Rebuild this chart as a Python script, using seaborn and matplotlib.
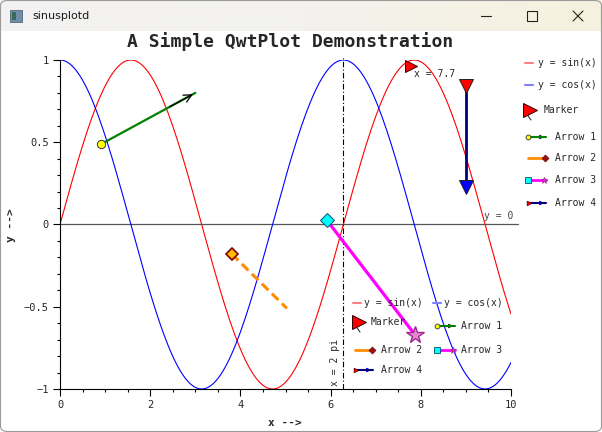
import numpy as np
import pandas as pd
import matplotlib
matplotlib.use("Agg")
import matplotlib.pyplot as plt
import seaborn as sns
from matplotlib.lines import Line2D
from matplotlib.patches import FancyArrowPatch, Rectangle, FancyBboxPatch
from matplotlib import transforms
from matplotlib.ticker import MultipleLocator, FixedLocator
from matplotlib.colors import LinearSegmentedColormap

# ---------------- data ----------------
x_min, x_max = 0.0, 10.0
y_min, y_max = -1.0, 1.0
x_samples = np.linspace(x_min, x_max, 201)
curve_names = ["y = sin(x)", "y = cos(x)"]
curve_colors = ["#ff0000", "#0000ff"]
x_major_ticks = [0, 2, 4, 6, 8, 10]
y_major_ticks = [-1, -0.5, 0, 0.5, 1]
y_tick_labels = ["\u22121", "\u22120.5", "0", "0.5", "1"]

marker_x = 7.7
vline_x = 2 * np.pi
arrow1 = [(0.92, 0.49), (3.00, 0.80)]
arrow2 = [(3.81, -0.18), (5.03, -0.51)]
arrow3 = [(5.92, 0.025), (7.87, -0.67)]
arrow4 = [(9.00, 0.84), (9.00, 0.23)]

title = "A Simple QwtPlot Demonstration"
window_title = "sinusplotd"

# ---------------- style ----------------
sns.set_style("white")
plt.rcParams["font.family"] = ["DejaVu Sans Mono", "DejaVu Sans"]

W, H = 602, 432
fig = plt.figure(figsize=(W / 100, H / 100), dpi=100)
fig.patch.set_facecolor("white")


def fx(px):
    return px / W


def fy(py):
    return 1 - py / H


def fig_line(xs, ys, **kw):
    fig.add_artist(Line2D([fx(v) for v in xs], [fy(v) for v in ys],
                          transform=fig.transFigure, **kw))


# ---------------- window chrome ----------------
bar = fig.add_axes([0, fy(31), 1, 31 / H])
grad = np.linspace(0, 1, 256)[None, :]
cm = LinearSegmentedColormap.from_list("tb", ["#f3f3f3", "#f3f2ee", "#f7f1de"])
bar.imshow(grad, aspect="auto", cmap=cm, extent=[0, 1, 0, 1])
bar.set_axis_off()
fig.add_artist(Rectangle((fx(10), fy(22)), 12 / W, 12 / H, transform=fig.transFigure,
                         facecolor="#6f8fa8", edgecolor="#556677", lw=0.6))
fig.add_artist(Rectangle((fx(12), fy(20)), 4 / W, 8 / H, transform=fig.transFigure,
                         facecolor="#3a6b5a", edgecolor="none"))
fig.text(fx(32), fy(16), window_title, family="DejaVu Sans", fontsize=8,
         color="#1a1a1a", va="center", ha="left")
fig_line([481, 491], [16, 16], color="#222222", lw=0.8)
fig.add_artist(Rectangle((fx(527), fy(21)), 10 / W, 10 / H, transform=fig.transFigure,
                         facecolor="none", edgecolor="#222222", lw=0.8))
fig_line([573, 583], [11, 21], color="#222222", lw=0.8)
fig_line([573, 583], [21, 11], color="#222222", lw=0.8)
fig.add_artist(FancyBboxPatch((fx(0.5), fy(431.5)), 601 / W, 431 / H,
                              boxstyle="round,pad=0,rounding_size=0.012",
                              transform=fig.transFigure, facecolor="none",
                              edgecolor="#9a9a9a", lw=0.8))

# ---------------- main axes ----------------
ax = fig.add_axes([fx(60), fy(389), 451 / W, 329 / H])
df = pd.DataFrame({
    "x": np.concatenate([x_samples, x_samples]),
    "y": np.concatenate([np.sin(x_samples), np.cos(x_samples)]),
    "curve": [curve_names[0]] * len(x_samples) + [curve_names[1]] * len(x_samples),
})
sns.lineplot(data=df, x="x", y="y", hue="curve", palette=dict(zip(curve_names, curve_colors)),
             linewidth=0.8, legend=False, ax=ax, sort=False)
ax.set_xlim(x_min, x_max)
ax.set_ylim(y_min, y_max)
ax.set_xlabel("")
ax.set_ylabel("")
for s in ["top", "right"]:
    ax.spines[s].set_visible(False)
for s in ["left", "bottom"]:
    ax.spines[s].set_color("black")
    ax.spines[s].set_linewidth(0.8)
ax.xaxis.set_major_locator(FixedLocator(x_major_ticks))
ax.xaxis.set_minor_locator(MultipleLocator(0.5))
ax.yaxis.set_major_locator(FixedLocator(y_major_ticks))
ax.yaxis.set_minor_locator(MultipleLocator(0.1))
ax.set_yticklabels(y_tick_labels)
ax.set_xticklabels([str(t) for t in x_major_ticks])
ax.tick_params(which="major", direction="out", length=5, width=0.8, color="black",
               labelsize=7.5, pad=3, bottom=True, left=True)
ax.tick_params(which="minor", direction="out", length=2.5, width=0.8, color="black",
               bottom=True, left=True)

# reference lines
ax.axhline(0, color="#555555", lw=0.9, xmax=1.015, clip_on=False, zorder=1)
ax.text(x_max + 0.05, 0.02, "y = 0", fontsize=7, color="#444444", ha="right", va="bottom")
ax.axvline(vline_x, color="black", lw=0.8, ls=(0, (5, 2, 1, 2)), ymax=1.012, clip_on=False)
ax.text(vline_x - 0.08, y_min + 0.02, "x = 2 pi", fontsize=7, rotation=90,
        ha="right", va="bottom")

# marker
mtrans = transforms.offset_copy(ax.transData, fig=fig, x=4, y=-4, units="dots")
ax.plot([marker_x], [np.sin(marker_x)], marker=">", ms=9, color="red", mec="#330000",
        mew=0.7, transform=mtrans, zorder=5)
ax.text(marker_x + 0.14, np.sin(marker_x) - 0.04, "x = 7.7", fontsize=7, ha="left", va="top")

# arrow 1
(a1x0, a1y0), (a1x1, a1y1) = arrow1
ax.plot([a1x0, a1x1], [a1y0, a1y1], color="green", lw=1.6, zorder=4)
ax.annotate("", xy=(a1x1, a1y1), xytext=(a1x1 - 0.3 * (a1x1 - a1x0), a1y1 - 0.3 * (a1y1 - a1y0)),
            arrowprops=dict(arrowstyle="->", color="black", lw=0.9, mutation_scale=14), zorder=4)
ax.plot([a1x0], [a1y0], marker="o", ms=6, color="yellow", mec="#333333", mew=0.7, zorder=5)

# arrow 2
(a2x0, a2y0), (a2x1, a2y1) = arrow2
ax.plot([a2x0, a2x1], [a2y0, a2y1], color="#ff8c00", lw=2.2, dashes=(3, 1.6), zorder=4)
ax.plot([a2x0], [a2y0], marker="D", ms=6, color="#ffbf00", mec="#800000", mew=1.2, zorder=5)

# arrow 3
(a3x0, a3y0), (a3x1, a3y1) = arrow3
ax.plot([a3x0, a3x1], [a3y0, a3y1], color="magenta", lw=2.3, zorder=4)
ax.plot([a3x0], [a3y0], marker="D", ms=7, color="cyan", mec="#0a4a70", mew=0.7, zorder=5)
ax.plot([a3x1], [a3y1], marker="*", ms=13, color="#e58ad0", mec="#a02890", mew=1.0, zorder=5)

# arrow 4
(a4x0, a4y0), (a4x1, a4y1) = arrow4
ax.plot([a4x0, a4x1], [a4y0, a4y1], color="#000080", lw=2.0, zorder=4)
ax.plot([a4x0], [a4y0], marker="v", ms=10, color="red", mec="#222222", mew=0.7, zorder=5)
ax.plot([a4x1], [a4y1], marker="v", ms=10, color="blue", mec="#222222", mew=0.7, zorder=5)

# ---------------- titles ----------------
fig.text(fx(290), fy(42), title, fontsize=13, fontweight="bold", ha="center", va="center")
fig.text(fx(285), fy(423), "x -->", fontsize=8, fontweight="bold", ha="center", va="center")
fig.text(fx(11), fy(225), "y -->", fontsize=8, fontweight="bold", ha="center", va="center",
         rotation=90)


# ---------------- legends ----------------
def legend_item(kind, x0, y, tx, label):
    if kind == "sin":
        fig_line([x0, x0 + 8], [y, y], color="#ff8080", lw=1.5)
    elif kind == "cos":
        fig_line([x0, x0 + 8], [y, y], color="#8080ff", lw=1.5)
    elif kind == "marker":
        fig_line([x0 + 3, x0 + 8], [y + 3, y + 10], color="#333333", lw=0.8)
        fig_line([x0 + 7], [y], marker=">", ms=10, color="red", mec="#330000", mew=0.7)
    elif kind == "arrow1":
        fig_line([x0, x0 + 18], [y, y], color="green", lw=1.5)
        fig.add_artist(FancyArrowPatch((fx(x0 + 12), fy(y)), (fx(x0 + 19), fy(y)),
                                       transform=fig.transFigure, arrowstyle="-|>",
                                       mutation_scale=6, color="#113311", lw=0.8))
        fig_line([x0], [y], marker="o", ms=3.5, color="yellow", mec="#333333", mew=0.6)
    elif kind == "arrow2":
        fig_line([x0, x0 + 17], [y, y], color="#ff8c00", lw=2.0)
        fig_line([x0 + 17], [y], marker="D", ms=3.5, color="#a01010", mec="#600000", mew=0.5)
    elif kind == "arrow3":
        fig_line([x0, x0 + 18], [y, y], color="magenta", lw=2.0)
        fig_line([x0], [y], marker="s", ms=4, color="cyan", mec="#0a4a70", mew=0.6)
        fig_line([x0 + 16], [y], marker="*", ms=5, color="#d040b0", mec="#a02890", mew=0.5)
    elif kind == "arrow4":
        fig_line([x0, x0 + 18], [y, y], color="#000080", lw=1.5)
        fig_line([x0 + 1], [y], marker=">", ms=3.5, color="red", mec="#330000", mew=0.4)
        fig.add_artist(FancyArrowPatch((fx(x0 + 12), fy(y)), (fx(x0 + 19), fy(y)),
                                       transform=fig.transFigure, arrowstyle="-|>",
                                       mutation_scale=6, color="blue", lw=0.8))
    fig.text(fx(tx), fy(y), label, fontsize=7, ha="left", va="center")


legend_kinds = ["sin", "cos", "marker", "arrow1", "arrow2", "arrow3", "arrow4"]
legend_labels = ["y = sin(x)", "y = cos(x)", "Marker", "Arrow 1", "Arrow 2", "Arrow 3", "Arrow 4"]

# right-hand legend
right_rows = [(525, 63, 538), (525, 85, 538), (523, 110, 544), (528, 137, 555),
              (528, 158, 555), (528, 180, 555), (528, 203, 555)]
for k, lab, (x0, y, tx) in zip(legend_kinds, legend_labels, right_rows):
    legend_item(k, x0, y, tx, lab)

# inner legend
inner_rows = [(353, 303, 364), (433, 303, 444), (352, 322, 371), (437, 326, 461),
              (355, 350, 381), (437, 350, 461), (355, 370, 381)]
for k, lab, (x0, y, tx) in zip(legend_kinds, legend_labels, inner_rows):
    legend_item(k, x0, y, tx, lab)

fig.savefig("out.png", dpi=100)
